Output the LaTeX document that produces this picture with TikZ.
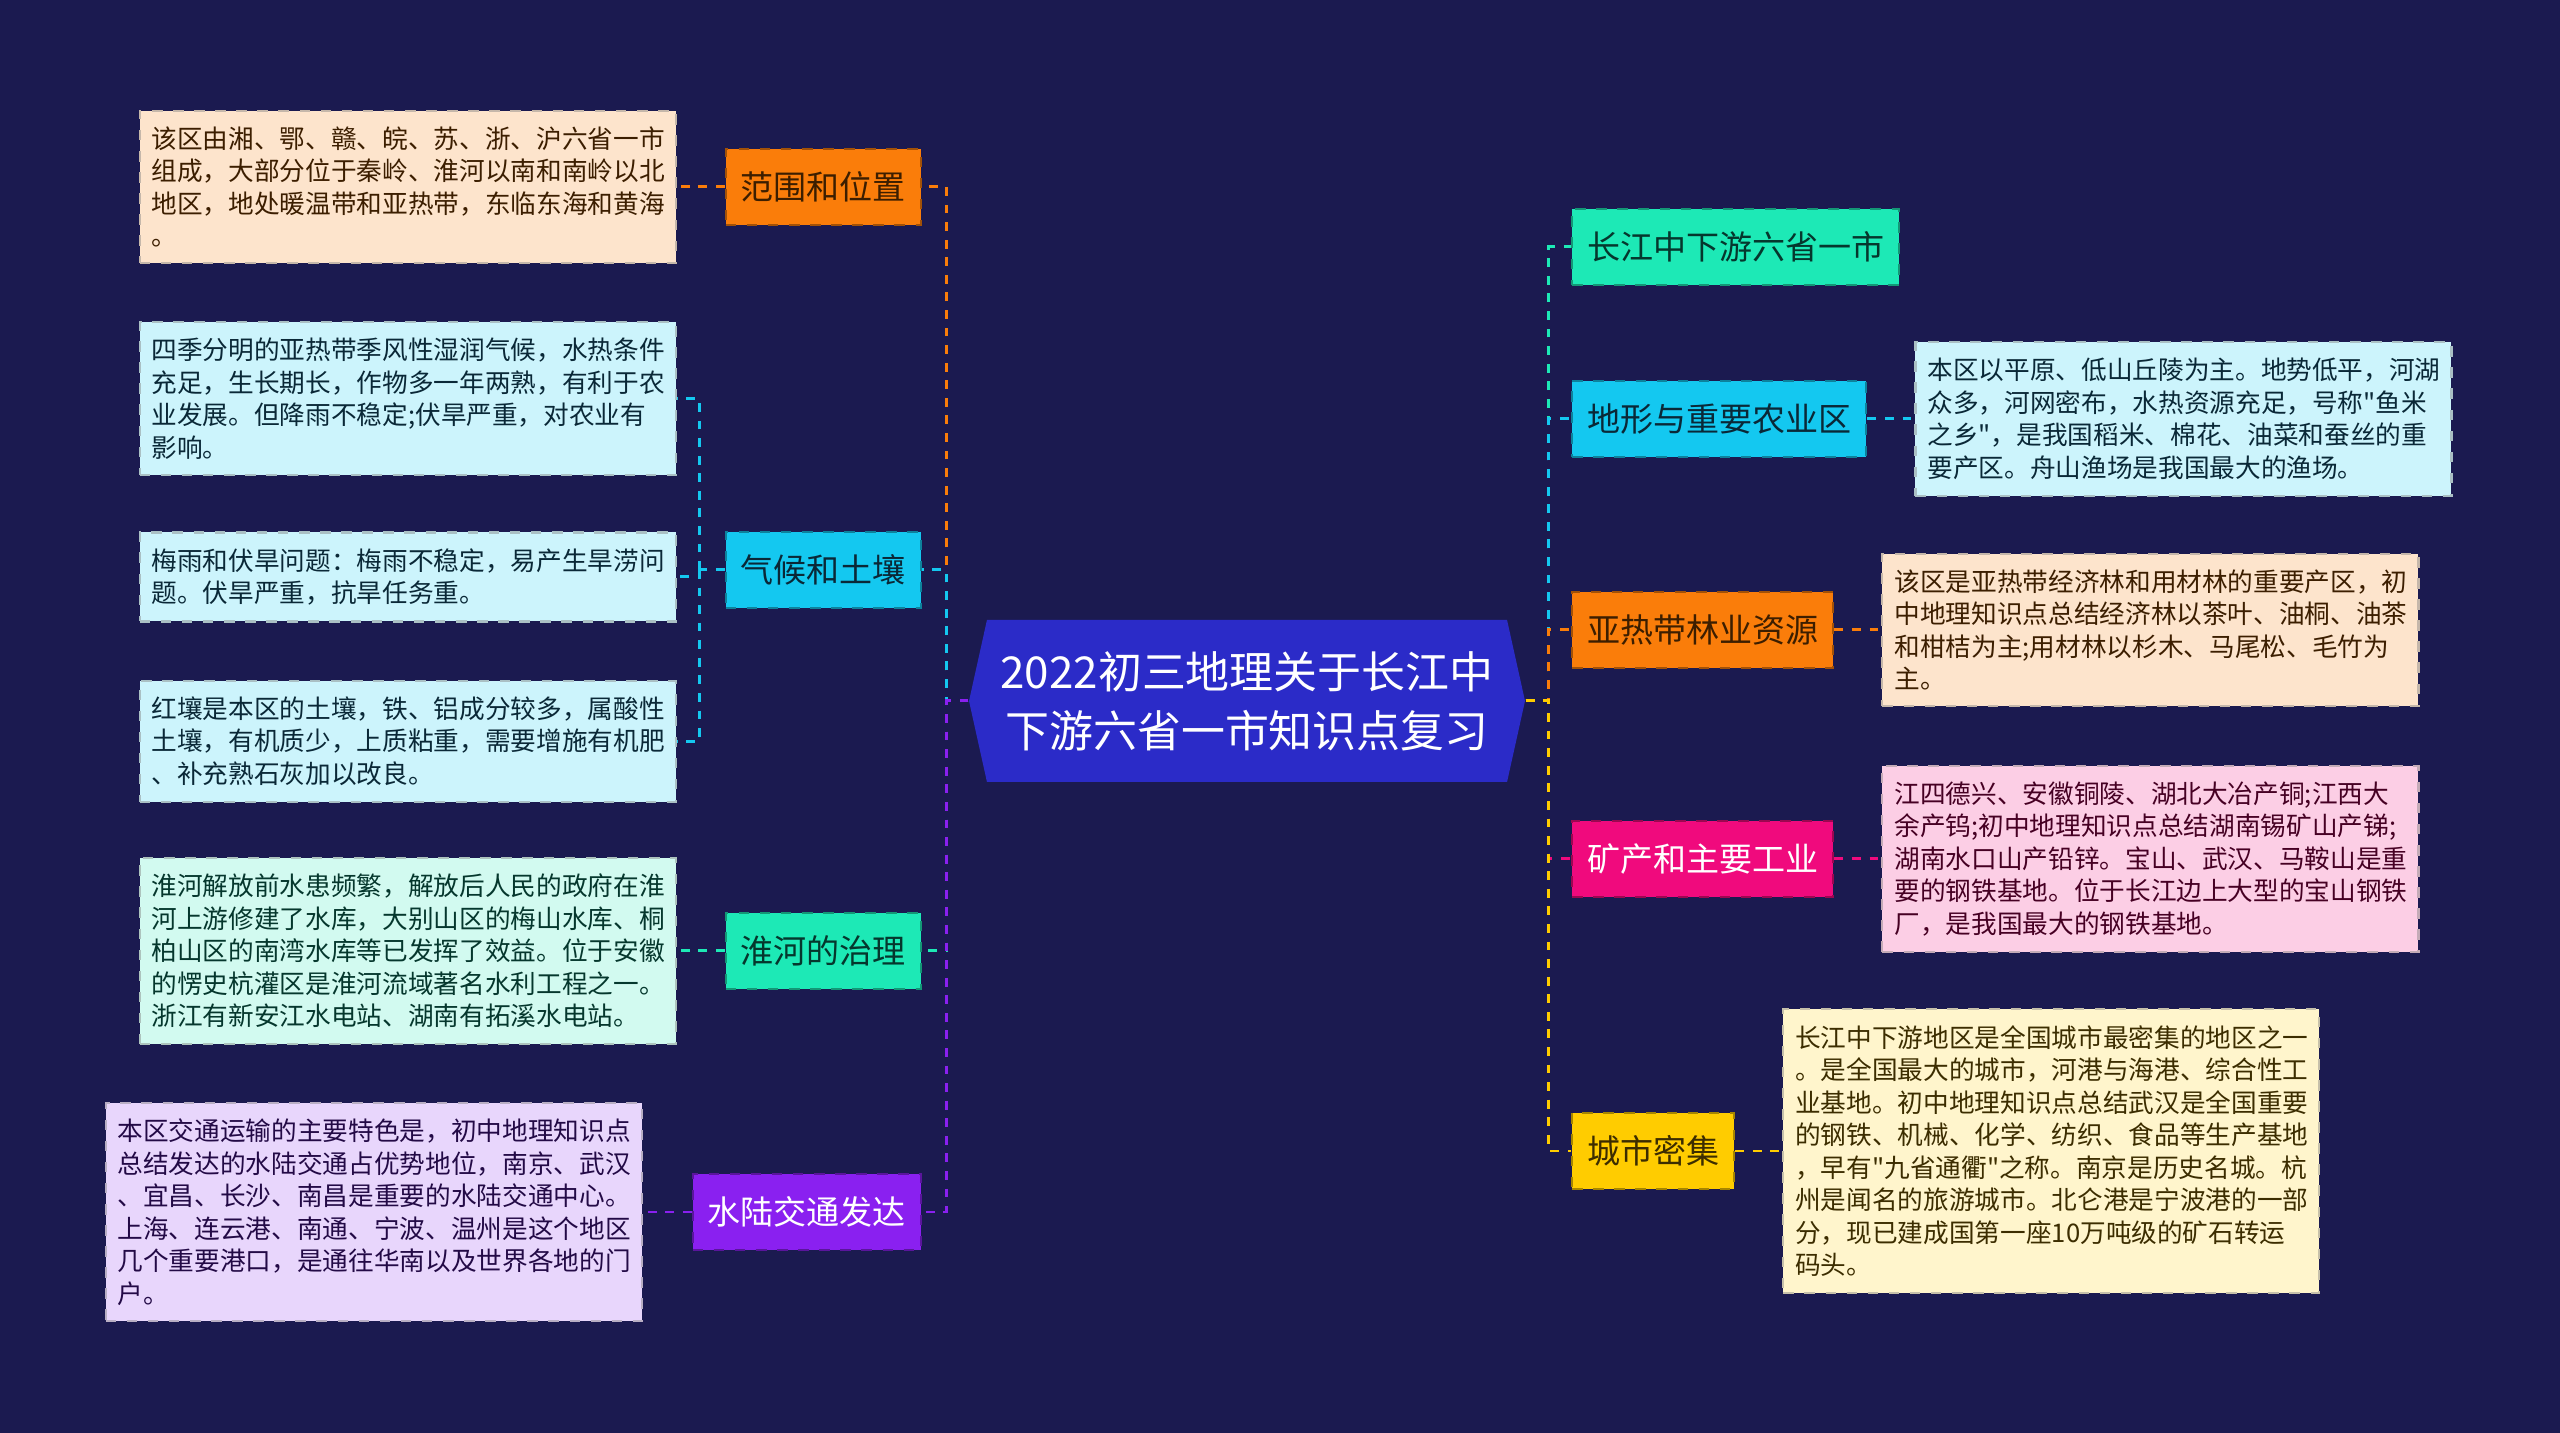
\documentclass[tikz,border=0pt]{standalone}
\usepackage{fontspec}
\setmainfont{Noto Sans CJK SC}[Ligatures=TeXOff]
\usepackage{tikz}
\usetikzlibrary{positioning,shapes.symbols}
\definecolor{NavyBg}{RGB}{27,26,80}
\definecolor{TitleBlue}{RGB}{43,43,200}
\definecolor{OrangeBranch}{RGB}{250,125,10}
\definecolor{CyanBranch}{RGB}{20,200,240}
\definecolor{MintBranch}{RGB}{29,233,182}
\definecolor{PurpleBranch}{RGB}{138,32,240}
\definecolor{PinkBranch}{RGB}{240,10,125}
\definecolor{GoldBranch}{RGB}{255,204,0}
\definecolor{OrangeLight}{RGB}{253,228,204}
\definecolor{CyanLight}{RGB}{204,244,252}
\definecolor{MintLight}{RGB}{210,250,240}
\definecolor{PurpleLight}{RGB}{232,214,252}
\definecolor{PinkLight}{RGB}{252,206,229}
\definecolor{GoldLight}{RGB}{255,245,204}
\definecolor{OrangeInk}{RGB}{60,30,0}
\definecolor{CyanInk}{RGB}{10,40,55}
\definecolor{MintInk}{RGB}{5,55,45}
\definecolor{PurpleInk}{RGB}{35,10,70}
\definecolor{PinkInk}{RGB}{70,0,35}
\definecolor{GoldInk}{RGB}{60,45,0}

\begin{document}
\begin{tikzpicture}[
  twig/.style={line width=0.85pt,dash pattern=on 2.5pt off 2.5pt},
  topic/.style 2 args={draw=#1!65!black,fill=#1,text=#2,dashed,line width=0.6pt,
    minimum height=0.76cm,inner xsep=0.15cm,font=\fontsize{9.4pt}{11pt}\selectfont},
  note/.style 2 args={draw=#1!55!gray,fill=#1,text=#2,dashed,line width=0.6pt,
    text width=5.12cm,inner xsep=0.12cm,inner ysep=0.16cm,align=left,
    font=\fontsize{7.3pt}{9.25pt}\selectfont}]
  \fill[NavyBg] (0,0) rectangle (25.6,-14.33);
  \useasboundingbox (0,0) rectangle (25.6,-14.33);

  \node[signal,signal to=west and east,signal pointer angle=155,fill=TitleBlue,text=white,
    minimum width=5.56cm,minimum height=1.62cm,align=center,
    font=\fontsize{12.5pt}{16.7pt}\selectfont] (root) at (12.47,-7.01)
    {2022初三地理关于长江中\\下游六省一市知识点复习};

  \node[topic={OrangeBranch}{OrangeInk},anchor=east] (range) at (9.22,-1.87) {范围和位置};
  \node[topic={CyanBranch}{CyanInk},anchor=east] (climate) at (9.22,-5.70) {气候和土壤};
  \node[topic={MintBranch}{MintInk},anchor=east] (huai) at (9.22,-9.51) {淮河的治理};
  \node[topic={PurpleBranch}{white},anchor=east] (traffic) at (9.22,-12.12) {水陆交通发达};
  \node[topic={MintBranch}{MintInk},anchor=west] (region) at (15.71,-2.47) {长江中下游六省一市};
  \node[topic={CyanBranch}{CyanInk},anchor=west] (terrain) at (15.71,-4.19) {地形与重要农业区};
  \node[topic={OrangeBranch}{OrangeInk},anchor=west] (forest) at (15.71,-6.30) {亚热带林业资源};
  \node[topic={PinkBranch}{white},anchor=west] (mineral) at (15.71,-8.59) {矿产和主要工业};
  \node[topic={GoldBranch}{GoldInk},anchor=west] (city) at (15.71,-11.51) {城市密集};

  \node[note={OrangeLight}{OrangeInk},left=0.48cm of range] (rangeT)
    {该区由湘、鄂、赣、皖、苏、浙、沪六省一市\\组成，大部分位于秦岭、淮河以南和南岭以北\\地区，地处暖温带和亚热带，东临东海和黄海\\。};
  \node[note={CyanLight}{CyanInk},left=0.48cm of climate,yshift=-0.07cm] (climB)
    {梅雨和伏旱问题：梅雨不稳定，易产生旱涝问\\题。伏旱严重，抗旱任务重。};
  \node[note={CyanLight}{CyanInk},above=0.55cm of climB] (climA)
    {四季分明的亚热带季风性湿润气候，水热条件\\充足，生长期长，作物多一年两熟，有利于农\\业发展。但降雨不稳定;伏旱严重，对农业有\\影响。};
  \node[note={CyanLight}{CyanInk},below=0.57cm of climB] (climC)
    {红壤是本区的土壤，铁、铝成分较多，属酸性\\土壤，有机质少，上质粘重，需要增施有机肥\\、补充熟石灰加以改良。};
  \node[note={MintLight}{MintInk},left=0.48cm of huai] (huaiT)
    {淮河解放前水患频繁，解放后人民的政府在淮\\河上游修建了水库，大别山区的梅山水库、桐\\柏山区的南湾水库等已发挥了效益。位于安徽\\的愣史杭灌区是淮河流域著名水利工程之一。\\浙江有新安江水电站、湖南有拓溪水电站。};
  \node[note={PurpleLight}{PurpleInk},left=0.49cm of traffic] (trafficT)
    {本区交通运输的主要特色是，初中地理知识点\\总结发达的水陆交通占优势地位，南京、武汉\\、宜昌、长沙、南昌是重要的水陆交通中心。\\上海、连云港、南通、宁波、温州是这个地区\\几个重要港口，是通往华南以及世界各地的门\\户。};
  \node[note={CyanLight}{CyanInk},right=0.47cm of terrain] (terrainT)
    {本区以平原、低山丘陵为主。地势低平，河湖\\众多，河网密布，水热资源充足，号称"鱼米\\之乡"，是我国稻米、棉花、油菜和蚕丝的重\\要产区。舟山渔场是我国最大的渔场。};
  \node[note={OrangeLight}{OrangeInk},right=0.47cm of forest] (forestT)
    {该区是亚热带经济林和用材林的重要产区，初\\中地理知识点总结经济林以茶叶、油桐、油茶\\和柑桔为主;用材林以杉木、马尾松、毛竹为\\主。};
  \node[note={PinkLight}{PinkInk},right=0.47cm of mineral] (mineralT)
    {江四德兴、安徽铜陵、湖北大冶产铜;江西大\\余产钨;初中地理知识点总结湖南锡矿山产锑;\\湖南水口山产铅锌。宝山、武汉、马鞍山是重\\要的钢铁基地。位于长江边上大型的宝山钢铁\\厂，是我国最大的钢铁基地。};
  \node[note={GoldLight}{GoldInk},right=0.47cm of city] (cityT)
    {长江中下游地区是全国城市最密集的地区之一\\。是全国最大的城市，河港与海港、综合性工\\业基地。初中地理知识点总结武汉是全国重要\\的钢铁、机械、化学、纺织、食品等生产基地\\，早有"九省通衢"之称。南京是历史名城。杭\\州是闻名的旅游城市。北仑港是宁波港的一部\\分，现已建成国第一座10万吨级的矿石转运\\码头。};

  \draw[twig,OrangeBranch] (root.west) -- ++(-0.22,0) |- (range.east);
  \draw[twig,CyanBranch] (root.west) -- ++(-0.22,0) |- (climate.east);
  \draw[twig,MintBranch] (root.west) -- ++(-0.22,0) |- (huai.east);
  \draw[twig,PurpleBranch] (root.west) -- ++(-0.22,0) |- (traffic.east);
  \draw[twig,MintBranch] (root.east) -- ++(0.23,0) |- (region.west);
  \draw[twig,CyanBranch] (root.east) -- ++(0.23,0) |- (terrain.west);
  \draw[twig,OrangeBranch] (root.east) -- ++(0.23,0) |- (forest.west);
  \draw[twig,PinkBranch] (root.east) -- ++(0.23,0) |- (mineral.west);
  \draw[twig,GoldBranch] (root.east) -- ++(0.23,0) |- (city.west);

  \draw[twig,OrangeBranch] (range.west) -- (rangeT.east);
  \draw[twig,CyanBranch] (climate.west) -- ++(-0.25,0) coordinate (climJ);
  \foreach \leaf in {climA,climB,climC}
    \draw[twig,CyanBranch] (climJ) |- (\leaf.east);
  \draw[twig,MintBranch] (huai.west) -- (huaiT.east);
  \draw[twig,PurpleBranch] (traffic.west) -- (trafficT.east);
  \draw[twig,CyanBranch] (terrain.east) -- (terrainT.west);
  \draw[twig,OrangeBranch] (forest.east) -- (forestT.west);
  \draw[twig,PinkBranch] (mineral.east) -- (mineralT.west);
  \draw[twig,GoldBranch] (city.east) -- (cityT.west);
\end{tikzpicture}
\end{document}
